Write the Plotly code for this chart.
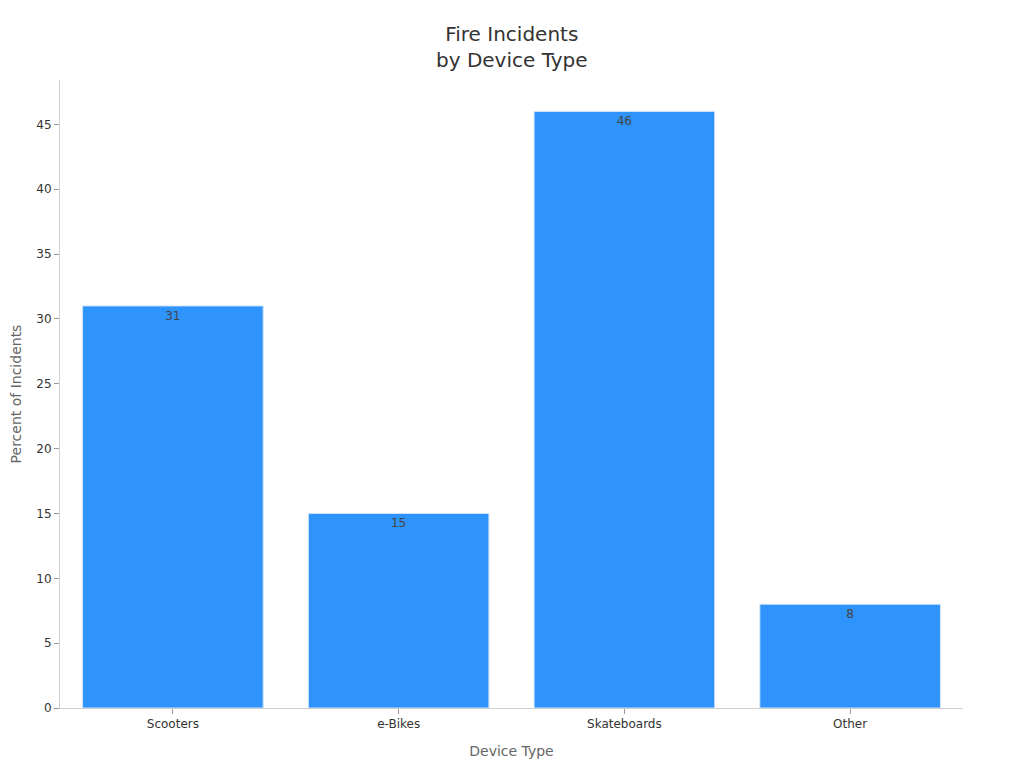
import plotly.graph_objects as go

categories = ["Scooters", "e-Bikes", "Skateboards", "Other"]
values = [31, 15, 46, 8]

fig = go.Figure(
    go.Bar(
        x=categories,
        y=values,
        text=[str(v) for v in values],
        textposition="inside",
        insidetextanchor="end",
        textfont=dict(color="#444444", size=12),
        marker=dict(color="#2E93FA", line=dict(color="#cfe3fb", width=1)),
    )
)

fig.update_layout(
    width=1024,
    height=768,
    paper_bgcolor="white",
    plot_bgcolor="white",
    font=dict(family="DejaVu Sans", color="#333333", size=12),
    title=dict(
        text="Fire Incidents<br>by Device Type",
        x=0.492,
        xanchor="center",
        y=0.9576,
        yanchor="top",
        font=dict(size=20, color="#333333"),
    ),
    margin=dict(l=52, r=69, t=72, b=68),
    bargap=0.2,
    showlegend=False,
    xaxis=dict(
        title=dict(text="Device Type", font=dict(size=14, color="#666666"), standoff=15),
        showline=True,
        linecolor="#d0d0d0",
        ticks="outside",
        tickcolor="#999999",
        ticklen=5,
        showgrid=False,
        tickfont=dict(size=12, color="#333333"),
    ),
    yaxis=dict(
        title=dict(text="Percent of Incidents", font=dict(size=14, color="#666666"), standoff=14),
        automargin=False,
        showline=True,
        linecolor="#d0d0d0",
        ticks="outside",
        tickcolor="#999999",
        ticklen=5,
        showgrid=False,
        zeroline=False,
        dtick=5,
        tickfont=dict(size=12, color="#333333"),
    ),
)

fig.write_html("out.html")
